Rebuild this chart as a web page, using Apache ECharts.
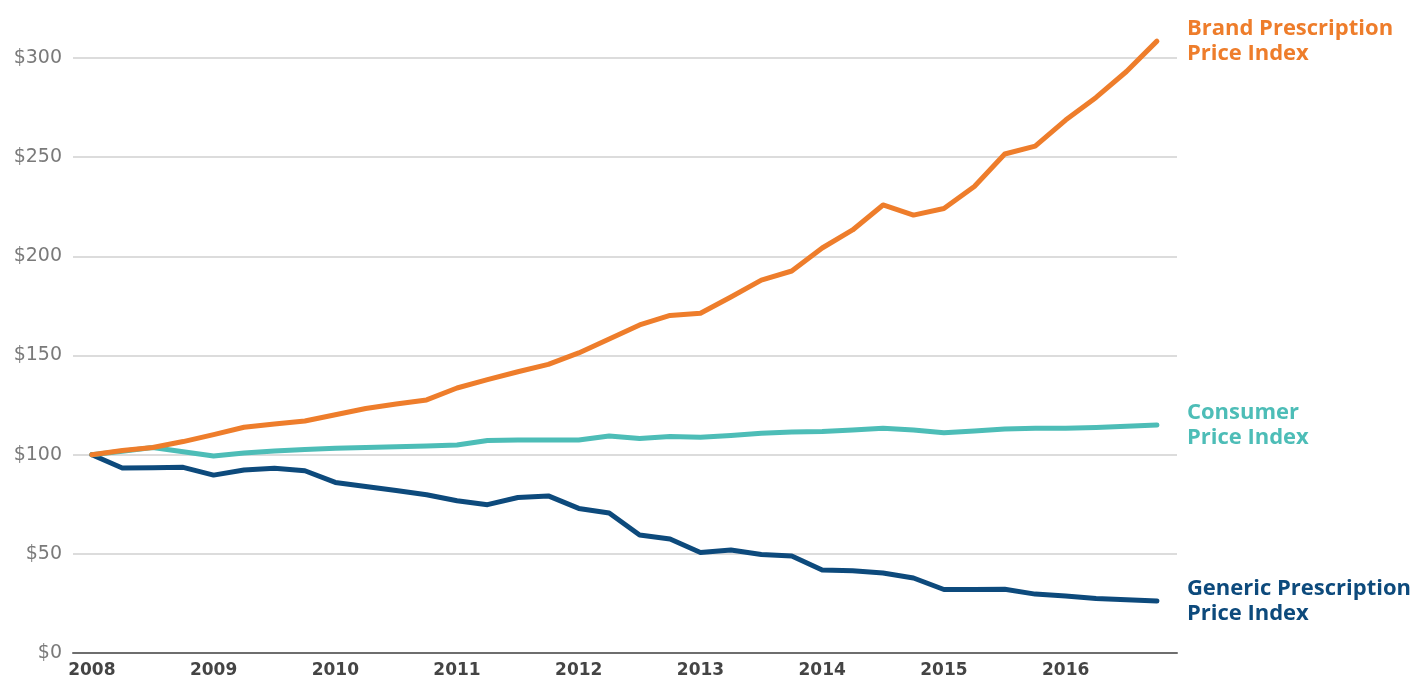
<!DOCTYPE html>
<html>
<head>
<meta charset="utf-8">
<title>Price index comparison</title>
<script src="https://cdn.jsdelivr.net/npm/echarts@6/dist/echarts.min.js"></script>
<style>
  html, body { margin: 0; padding: 0; background: #fff; }
  #chart { width: 1416px; height: 689px; }
</style>
</head>
<body>
<div id="chart"></div>
<script>
// quarterly index values, 2008 Q1 = $100
var startYear = 2008;
var yearTicks = [2008, 2009, 2010, 2011, 2012, 2013, 2014, 2015, 2016];
var brandValues = [100, 102.1, 103.6, 106.6, 110.1, 113.8, 115.5, 117, 120.1, 123.3, 125.5, 127.6,
  133.6, 137.8, 141.8, 145.5, 151.3, 158.3, 165.4, 170.2, 171.3, 179.5, 188, 192.6,
  204.2, 213.3, 225.9, 220.8, 224.1, 235.2, 251.6, 255.6, 268.7, 280.1, 293.2, 308.5];
var consumerValues = [100, 101.7, 103.6, 101.5, 99.3, 100.8, 101.8, 102.6, 103.2, 103.6, 104, 104.4,
  104.9, 107.1, 107.4, 107.4, 107.4, 109.4, 108.2, 109.2, 108.8, 109.7, 110.8, 111.4,
  111.7, 112.4, 113.3, 112.4, 111.1, 111.9, 113, 113.3, 113.3, 113.7, 114.3, 115];
var genericValues = [100, 93.3, 93.4, 93.6, 89.7, 92.3, 93.1, 91.9, 86, 84, 81.9, 79.8,
  76.8, 74.8, 78.4, 79.2, 72.9, 70.6, 59.5, 57.5, 50.7, 51.9, 49.7, 48.9,
  41.8, 41.5, 40.3, 37.8, 32, 32, 32.1, 29.7, 28.7, 27.5, 26.8, 26.2];
var yTicks = [0, 50, 100, 150, 200, 250, 300];

var FONT = "'Open Sans', 'Noto Sans', sans-serif";
var AXIS_FONT = "'DejaVu Sans', 'Open Sans', sans-serif";

function toPairs(values) {
  var out = [];
  for (var i = 0; i < values.length; i++) {
    out.push([startYear + i / 4, values[i]]);
  }
  return out;
}

function makeSeries(name, label, values, color) {
  return {
    name: name,
    type: 'line',
    data: toPairs(values),
    showSymbol: false,
    symbol: 'none',
    clip: false,
    lineStyle: { color: color, width: 5, join: 'round', cap: 'round' },
    itemStyle: { color: color },
    endLabel: {
      show: true,
      formatter: label,
      distance: 30,
      color: color,
      fontFamily: FONT,
      fontWeight: 'bold',
      fontSize: 22,
      lineHeight: 25,
      align: 'left',
      verticalAlign: 'middle'
    }
  };
}

var chart = echarts.init(document.getElementById('chart'), null, { renderer: 'canvas' });
var option = {
  backgroundColor: '#ffffff',
  animation: false,
  grid: { left: 73, right: 239, top: 58, bottom: 36 },
  xAxis: {
    type: 'value',
    min: 2007.845,
    max: 2016.915,
    axisLine: { show: true, onZero: false, lineStyle: { color: '#6e6e6e', width: 2 } },
    axisTick: { show: false },
    splitLine: { show: false },
    axisLabel: {
      customValues: yearTicks,
      formatter: function (v) { return String(v); },
      color: '#444',
      fontFamily: AXIS_FONT,
      fontWeight: 'bold',
      fontSize: 17,
      margin: 9
    }
  },
  yAxis: {
    type: 'value',
    min: 0,
    max: 300,
    interval: 50,
    axisLine: { show: false },
    axisTick: { show: false },
    splitLine: { show: true, lineStyle: { color: '#dcdcdc', width: 2 } },
    axisLabel: {
      customValues: yTicks,
      formatter: function (v) { return '$' + v; },
      color: '#7a7a7a',
      fontFamily: AXIS_FONT,
      fontSize: 19,
      margin: 11
    }
  },
  series: [
    makeSeries('Generic', 'Generic Prescription\nPrice Index', genericValues, '#0d4a7c'),
    makeSeries('Consumer', 'Consumer\nPrice Index', consumerValues, '#4dbdb7'),
    makeSeries('Brand', 'Brand Prescription\nPrice Index', brandValues, '#ee7d2b')
  ]
};
chart.setOption(option);
</script>
</body>
</html>
